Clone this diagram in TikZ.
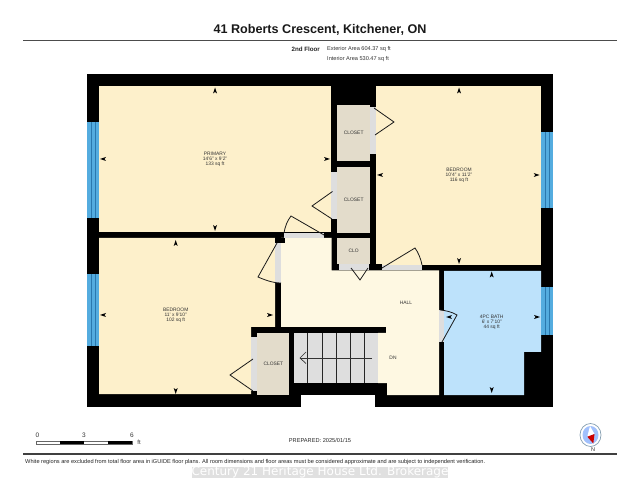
\documentclass[tikz,border=0pt]{standalone}
\usepackage{fontspec}
\setmainfont{Liberation Sans}
\newfontfamily\wmfont{DejaVu Sans}
\newcommand{\fsz}[1]{\fontsize{#1}{#1}\selectfont}
\definecolor{roomc}{HTML}{FDF0CB}
\definecolor{hallc}{HTML}{FEF8E2}
\definecolor{closetc}{HTML}{E3DCCB}
\definecolor{bathc}{HTML}{BDE2FB}
\definecolor{doorc}{HTML}{DEDEDE}
\definecolor{winc}{HTML}{54ACDF}
\definecolor{winl}{HTML}{2A78AE}
\tikzset{
  x=1pt,y=-1pt,
  room/.style={draw=none,fill=roomc},
  wall/.style={draw=none,fill=black},
  grayfill/.style={draw=none,fill=doorc},
  win/.style={draw=none,fill=winc},
  winline/.style={draw=winl,line width=0.8pt},
  doorline/.style={draw=black!90,line width=0.8pt},
  lab/.style={text=black!80,font=\fsz{4.9},align=center,inner sep=0pt},
  clab/.style={text=black!80,font=\fsz{4.9},inner sep=0pt},
  mk/.pic={\fill[black] (-2,3) -- (0,-3) -- (2,3) -- (0,1.5) -- cycle;},
}
\begin{document}
\begin{tikzpicture}
\useasboundingbox (0,0) rectangle (640,494);
\fill[white] (0,0) rectangle (640,494);
% header
\node[font=\bfseries\fsz{12.6},text=black!90,inner sep=0pt] (title) at (320,30) {41 Roberts Crescent, Kitchener, ON};
\coordinate (hl) at (23,40.7); \coordinate (hr) at (617,40.7);
\draw[black!70,line width=1.4pt] (hl) -- (hr);
\node[font=\bfseries\fsz{6.2},text=black!85,anchor=east,inner sep=0pt] (floor) at (320,49) {2nd Floor};
\node[font=\fsz{5.6},text=black!80,anchor=west,inner sep=0pt] (ext) at (327,49) {Exterior Area 604.37 sq ft};
\node[font=\fsz{5.6},text=black!80,anchor=west,inner sep=0pt] (int) at (327,59.3) {Interior Area 530.47 sq ft};
% building mass
\fill[wall] (87,74) rectangle (553,407);
\fill[white] (301,395) rectangle (375,407.5);
% rooms
\fill[room] (99,86) rectangle (331,232);
\fill[room] (99,238) -- (275,238) -- (275,327) -- (251,327) -- (251,394) -- (99,394) -- cycle;
\fill[room] (376,86) rectangle (541,265);
\fill[room] (376,86) rectangle (382,270);
\fill[fill=hallc] (281,238) -- (331.5,238) -- (331.5,270.5) -- (439,270.5) -- (439,395) -- (387,395) -- (387,383) -- (378,383) -- (378,333) -- (386,333) -- (386,327) -- (281,327) -- cycle;
\fill[fill=bathc] (444,271) -- (541,271) -- (541,352) -- (524,352) -- (524,395) -- (444,395) -- cycle;
\fill[wall] (370,264) rectangle (382,270.5);
% closets
\fill[fill=closetc] (337,105) rectangle (370,161);
\fill[fill=closetc] (337,167) rectangle (370,233);
\fill[fill=closetc] (337,238) rectangle (370,264);
\fill[fill=closetc] (257,333) rectangle (289,395);
% door gaps
\fill[grayfill] (370,107) rectangle (376,154);
\fill[grayfill] (331,172) rectangle (337,219);
\fill[grayfill] (284,233) rectangle (324,238);
\fill[grayfill] (275,243) rectangle (281,283);
\fill[grayfill] (339,264) rectangle (368.5,270.5);
\fill[grayfill] (382,265) rectangle (421.5,270.5);
\fill[grayfill] (439,310) rectangle (444,342);
\fill[grayfill] (251,337) rectangle (257,391);
\fill[wall] (275,238) rectangle (285,243);
% windows
\foreach \xa/\ya/\yb in {87/122/218,87/274/346,541/132/208,541/287/335}{
  \fill[win] (\xa,\ya) rectangle (\xa+12,\yb);
  \foreach \d in {4,8}{\draw[winline] (\xa+\d,\ya) -- (\xa+\d,\yb);}
}
% stairs
\fill[grayfill] (294,333) rectangle (378,383);
\foreach \xx in {307.7,322.3,336.3,350.3,364.7}{\draw[black!85,line width=0.7pt] (\xx,333) -- (\xx,383);}
\coordinate (sa) at (372,358); \coordinate (sb) at (300,358);
\draw[black!80,line width=0.7pt] (sa) -- (sb);
\draw[black!80,line width=0.7pt] (306,352) -- (sb) -- (306,363.5);
% doors
\coordinate (a1) at (374,108); \coordinate (a2) at (394,122); \coordinate (a3) at (375,135);
\draw[doorline] (a1) -- (a2) -- (a3);
\coordinate (b1) at (332.5,191.5); \coordinate (b2) at (312,206); \coordinate (b3) at (332,219);
\draw[doorline] (b1) -- (b2) -- (b3);
\coordinate (c1) at (324,235); \coordinate (c2) at (291,216); \coordinate (c3) at (284,233);
\draw[doorline] (c1) -- (c2) .. controls (287,221) and (285,227) .. (c3);
\coordinate (d1) at (277,243); \coordinate (d2) at (258,277); \coordinate (d3) at (281,283);
\draw[doorline] (d1) -- (d2) .. controls (265,280) and (273,283) .. (d3);
\coordinate (e1) at (351,268); \coordinate (e2) at (360,280); \coordinate (e3) at (368,268);
\draw[doorline] (e1) -- (e2) -- (e3);
\coordinate (f1) at (382,268); \coordinate (f2) at (415,248); \coordinate (f3) at (422,265);
\draw[doorline] (f1) -- (f2) .. controls (418,252) and (421,259) .. (f3);
\coordinate (g1) at (442,342); \coordinate (g2) at (457,315); \coordinate (g3) at (440,310);
\draw[doorline] (g1) -- (g2) .. controls (452,312) and (446,310.5) .. (g3);
\coordinate (h1) at (253,359); \coordinate (h2) at (230,375); \coordinate (h3) at (253,391);
\draw[doorline] (h1) -- (h2) -- (h3);
% dimension marks
\foreach \xx/\yy/\r in {215/90.5/0,103/159/90,327/159/-90,215/228/180,
  175.7/243/0,103/315/90,270/315/-90,175.7/391/180,
  459/90.5/0,380/175/90,536.7/175/-90,459/261/180,
  491.7/274.5/0,449/317/90,537/317/-90,491.7/390/180}{
  \pic[rotate=\r,transform shape] at (\xx,\yy) {mk};
}
% labels
\node[lab] (lp) at (215,159) {PRIMARY\\14'6" x 9'2"\\133 sq ft};
\node[lab] (lb1) at (175.7,315) {BEDROOM\\11' x 9'10"\\102 sq ft};
\node[lab] (lb2) at (459,175) {BEDROOM\\10'4" x 11'2"\\116 sq ft};
\node[lab] (lb3) at (491.7,322) {4PC BATH\\6' x 7'10"\\44 sq ft};
\node[clab] (c1l) at (353.7,133) {CLOSET};
\node[clab] (c2l) at (353.7,199.7) {CLOSET};
\node[clab] (c3l) at (353.7,251) {CLO};
\node[clab] (c4l) at (273.3,364) {CLOSET};
\node[clab] (hall) at (406,302.5) {HALL};
\node[clab] (dn) at (393,358) {DN};
% footer
\foreach \t/\xx in {0/37.5,3/84,6/132}{\node[font=\fsz{6.5},text=black!80,inner sep=0pt] at (\xx,435) {\t};}
\draw[black!60,line width=0.4pt,fill=white] (36,440.7) rectangle (132,444);
\fill[black] (60,440.7) rectangle (84,444);
\fill[black] (108,440.7) rectangle (132,444);
\node[font=\fsz{6},text=black!80,inner sep=0pt] (ft) at (139,442.5) {ft};
\node[font=\fsz{5.65},text=black!85,inner sep=0pt] (prep) at (320,440.7) {PREPARED: 2025/01/15};
\coordinate (fl) at (23,454); \coordinate (fr) at (617,454);
\draw[black!75,line width=1.2pt] (fl) -- (fr);
\node[font=\fsz{5.65},text=black!85,anchor=west,inner sep=0pt] (disc) at (25,461.7) {White regions are excluded from total floor area in iGUIDE floor plans. All room dimensions and floor areas must be considered approximate and are subject to independent verification.};
% compass
\draw[black!30!bathc,line width=0.7pt,fill=white] (590.5,435) ellipse (10.5 and 11.5);
\fill[fill=bathc!85!blue] (590.5,435) ellipse (8 and 9);
\fill[white] (590,426) -- (594.5,434) -- (587.3,436.7) -- cycle;
\fill[red!80!black] (587.3,436.7) -- (594.5,434) -- (593.3,443.5) -- cycle;
\node[font=\fsz{5.5},text=black!80,inner sep=0pt] (north) at (593,450) {N};
% watermark
\fill[black!12] (192,466.5) rectangle (448,477.5);
\node[font=\wmfont\fsz{12},text=white,inner sep=0pt] (wm) at (320,471.7) {Century 21 Heritage House Ltd. Brokerage};
\end{tikzpicture}
\end{document}
